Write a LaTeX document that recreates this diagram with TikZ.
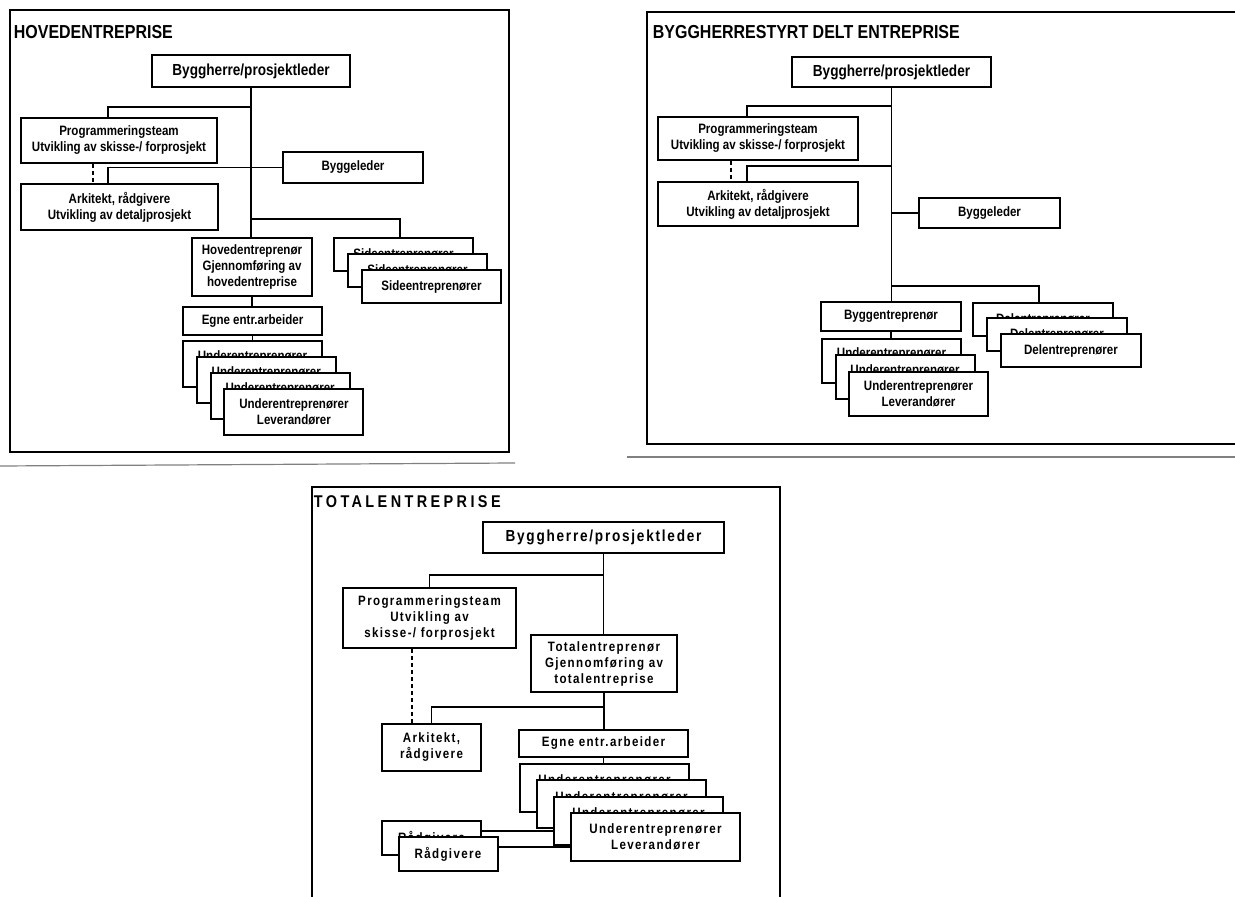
\documentclass[tikz,border=0pt]{standalone}
\usepackage{fontspec}
\setmainfont{Liberation Sans}[FakeStretch=0.85]
\begin{document}
\begin{tikzpicture}[x=0.5pt, y=-0.5pt, line width=0.9pt,
	box/.style={shape=rectangle, draw=black, line width=1pt, fill=white, align=center, inner sep=0pt,
		font=\bfseries\fontsize{6.8}{8}\selectfont},
	topbox/.style={box, font=\bfseries\fontsize{8}{9.6}\selectfont},
	wbox/.style={box, font=\bfseries\fontsize{6.8}{8}\selectfont\addfontfeatures{LetterSpace=10}},
	wtopbox/.style={box, font=\bfseries\fontsize{8}{9.6}\selectfont\addfontfeatures{LetterSpace=11}},
	title/.style={anchor=base west, inner sep=0pt, font=\bfseries\fontsize{9.4}{11}\selectfont},
	frame/.style={draw=black, line width=1pt},
	dash1/.style={dash pattern=on 2pt off 1.5pt}]
	\useasboundingbox (0,0) rectangle (1235,897);

	% HOVEDENTREPRISE
	\draw[frame] (10,10) rectangle (509,452);
	\node[title] (t1) at (13,39) {HOVEDENTREPRISE};
	\node[topbox, minimum width=99pt, minimum height=16pt]  (bh1) at (251,71)    {Byggherre/prosjektleder};
	\node[box, minimum width=98pt, minimum height=22.5pt]   (pt1) at (119,140.5) {Programmeringsteam\\Utvikling av skisse-/ forprosjekt};
	\node[box, minimum width=70pt, minimum height=15.5pt]   (bl1) at (353,167.5) {Byggeleder};
	\node[box, minimum width=98.5pt, minimum height=23pt]   (ak1) at (119.5,207) {Arkitekt, rådgivere\\Utvikling av detaljprosjekt};
	\node[box, minimum width=60pt, minimum height=29pt]     (he1) at (252,267)   {Hovedentreprenør\\Gjennomføring av\\hovedentreprise};
	\foreach \i in {0,1,2}
		\node[box, minimum width=69.5pt, minimum height=16.5pt] (se1\i) at (403.5+14*\i,254.5+16.25*\i) {Sideentreprenører};
	\node[box, minimum width=69.5pt, minimum height=14pt]   (eg1) at (252.5,321) {Egne entr.arbeider};
	\foreach \i in {0,...,3}
		\node[box, minimum width=69.5pt, minimum height=23pt] (ue1\i) at (252.5+13.8*\i,364+16*\i) {Underentreprenører\\Leverandører};

	\coordinate (j11) at (251,107);
	\coordinate (j12) at (251,219);
	\draw (bh1.south) -- (bh1.south |- he1.north);
	\draw (j11) -| ([xshift=-5.5pt]pt1.north);
	\draw (bl1.west) -| ([xshift=-5.75pt]ak1.north);
	\draw[dash1] ([xshift=-13pt]pt1.south) -- ([xshift=-13pt]pt1.south |- ak1.north);
	\draw (j12) -| ([xshift=-1.75pt]se10.north);
	\draw (he1.south) -- (he1.south |- eg1.north);
	\draw (eg1.south) -- (eg1.south |- ue10.north);

	% BYGGHERRESTYRT DELT ENTREPRISE
	\draw[frame] (1235,12) -- (647,12) -- (647,444) -- (1235,444);
	\node[title] (t2) at (652,39) {BYGGHERRESTYRT DELT ENTREPRISE};
	\node[topbox, minimum width=99.5pt, minimum height=15pt] (bh2) at (891.5,72)  {Byggherre/prosjektleder};
	\node[box, minimum width=100pt, minimum height=21.5pt]   (pt2) at (758,138.5) {Programmeringsteam\\Utvikling av skisse-/ forprosjekt};
	\node[box, minimum width=100pt, minimum height=22pt]     (ak2) at (758,204)   {Arkitekt, rådgivere\\Utvikling av detaljprosjekt};
	\node[box, minimum width=70.5pt, minimum height=15pt]    (bl2) at (989.5,213) {Byggeleder};
	\node[box, minimum width=70pt, minimum height=14.5pt]    (by2) at (891,316.5) {Byggentreprenør};
	\foreach \i in {0,1,2}
		\node[box, minimum width=69.5pt, minimum height=22pt] (ue2\i) at (891.5+13.5*\i,361+16.5*\i) {Underentreprenører\\Leverandører};
	\foreach \i in {0,1,2}
		\node[box, minimum width=70pt, minimum height=16.5pt] (de2\i) at (1043+14*\i,319.5+15.5*\i) {Delentreprenører};

	\coordinate (j21) at (891,106);
	\coordinate (j22) at (891,166);
	\coordinate (j24) at (891,286);
	\draw (bh2.south) -- (bh2.south |- by2.north);
	\draw (j21) -| ([xshift=-5.5pt]pt2.north);
	\draw (j22) -| ([xshift=-5.5pt]ak2.north);
	\draw (bl2.west -| bh2.south) -- (bl2.west);
	\draw[dash1] ([xshift=-13.5pt]pt2.south) -- ([xshift=-13.5pt]pt2.south |- ak2.north);
	\draw (j24) -| ([xshift=-2pt]de20.north);
	\draw (by2.south) -- (by2.south |- ue20.north);

	% TOTALENTREPRISE
	\draw[frame] (312,897) -- (312,487) -- (780,487) -- (780,897);
	\node[title, font=\bfseries\fontsize{8.5}{10}\selectfont\addfontfeatures{LetterSpace=20}] (t3) at (313,507) {TOTALENTREPRISE};
	\node[wtopbox, minimum width=120.5pt, minimum height=15.5pt] (bh3) at (603.5,537.5) {Byggherre/prosjektleder};
	\node[wbox, minimum width=86.5pt, minimum height=30pt]       (pt3) at (429.5,618)   {Programmeringsteam\\Utvikling av\\skisse-/ forprosjekt};
	\node[wbox, minimum width=73pt, minimum height=28.5pt]       (te3) at (604,663.5)   {Totalentreprenør\\Gjennomføring av\\totalentreprise};
	\node[wbox, minimum width=49.5pt, minimum height=23.5pt]     (ak3) at (431.5,747.5) {Arkitekt,\\rådgivere};
	\node[wbox, minimum width=84.5pt, minimum height=13.5pt]     (eg3) at (603.5,743.5) {Egne entr.arbeider};
	\foreach \i in {0,...,3}
		\node[wbox, minimum width=84.5pt, minimum height=24pt] (ue3\i) at (604.5+17*\i,788+16.33*\i) {Underentreprenører\\Leverandører};
	\foreach \i in {0,1}
		\node[wbox, minimum width=49.5pt, minimum height=17pt] (rg3\i) at (431.5+16.5*\i,838+16*\i) {Rådgivere};

	\coordinate (j31) at (603,575);
	\coordinate (j32) at (603,707);
	\draw (bh3.south) -- (bh3.south |- te3.north);
	\draw (j31) -| (pt3.north);
	\draw (te3.south) -- (te3.south |- eg3.north);
	\draw (j32) -| (ak3.north);
	\draw[dash1] ([xshift=-8.75pt]pt3.south) -- ([xshift=-8.75pt]pt3.south |- ak3.north);
	\draw (eg3.south) -- (eg3.south |- ue30.north);
	\draw ([yshift=3.5pt]rg30.east) -- ([yshift=3.5pt]rg30.east -| ue32.west);
	\draw ([yshift=3.5pt]rg31.east) -- ([yshift=3.5pt]rg31.east -| ue33.west);

	% page edges
	\draw[gray, line width=0.6pt] (0,466) -- (515,463);
	\draw[gray, line width=0.6pt] (627,457) -- (1235,457);
\end{tikzpicture}
\end{document}
